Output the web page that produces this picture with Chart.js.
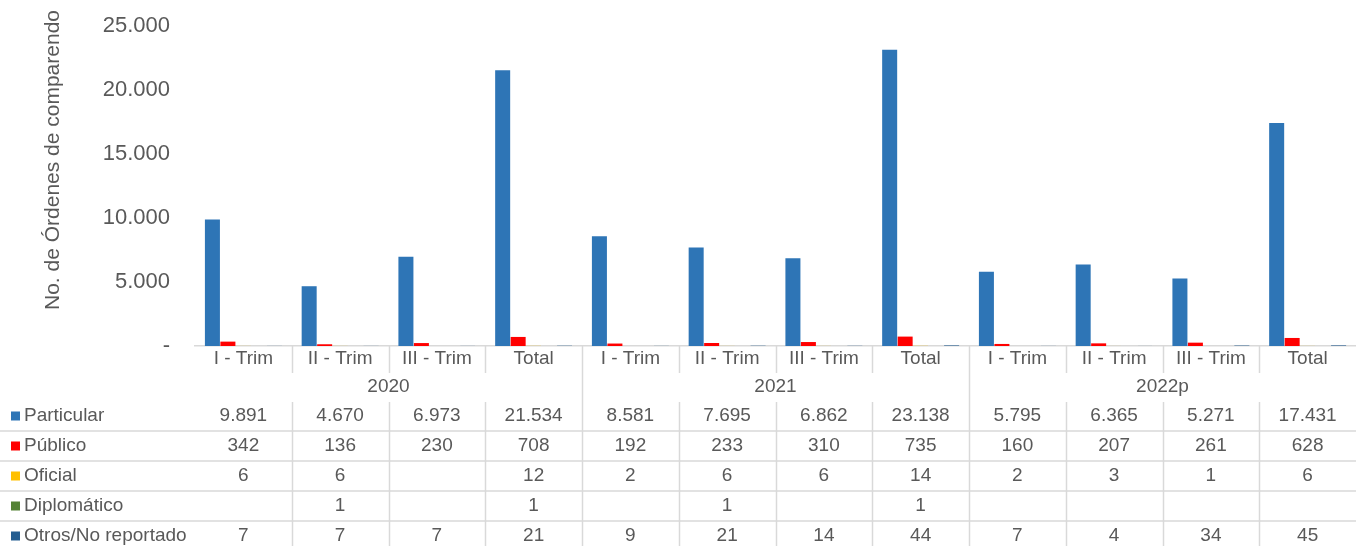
<!DOCTYPE html>
<html>
<head>
<meta charset="utf-8">
<script src="https://cdn.jsdelivr.net/npm/chart.js@4.4.0/dist/chart.umd.min.js"></script>
<style>
  body { margin: 0; background: #fff; }
  #wrap { width: 1356px; height: 546px; position: relative; }
</style>
</head>
<body>
<div id="wrap"><canvas id="grafico"></canvas></div>
<script>
// categorias y series
const periodos = ["I - Trim", "II - Trim", "III - Trim", "Total",
                  "I - Trim", "II - Trim", "III - Trim", "Total",
                  "I - Trim", "II - Trim", "III - Trim", "Total"];
const anios = ["2020", "2021", "2022p"];
const particular = [9891, 4670, 6973, 21534, 8581, 7695, 6862, 23138, 5795, 6365, 5271, 17431];
const publico = [342, 136, 230, 708, 192, 233, 310, 735, 160, 207, 261, 628];
const oficial = [6, 6, null, 12, 2, 6, 6, 14, 2, 3, 1, 6];
const diplomatico = [null, 1, null, 1, null, 1, null, 1, null, null, null, null];
const otros = [7, 7, 7, 21, 9, 21, 14, 44, 7, 4, 34, 45];
const yTicks = [0, 5000, 10000, 15000, 20000, 25000];

const gris = "#D9D9D9";
const texto = "#595959";
const fuente = "'Liberation Sans', Arial, sans-serif";

function miles(v) {
    if (v === null || v === undefined) return "";
    return String(v).replace(/\B(?=(\d{3})+(?!\d))/g, ".");
}

const series = [
    { nombre: "Particular", datos: particular, color: "#2E75B6" },
    { nombre: "Público", datos: publico, color: "#FF0000" },
    { nombre: "Oficial", datos: oficial, color: "#FFC000" },
    { nombre: "Diplomático", datos: diplomatico, color: "#548235" },
    { nombre: "Otros/No reportado", datos: otros, color: "#255E91" }
];

// tabla de datos debajo del eje
const tablaPlugin = {
    id: "tabla",
    afterDraw(chart) {
        const ctx = chart.ctx;
        const x = chart.scales.x;
        const area = chart.chartArea;
        const ancho = x.getPixelForValue(1) - x.getPixelForValue(0);
        const base = area.bottom;
        const filaY = [416, 446, 476, 506, 536];

        ctx.save();
        ctx.strokeStyle = gris;
        ctx.lineWidth = 1.5;

        // lineas verticales
        for (let k = 1; k < periodos.length; k++) {
            const px = Math.round(x.getPixelForValue(k) - ancho / 2) + 0.5;
            ctx.beginPath();
            if (k % 4 === 0) {
                ctx.moveTo(px, base);
                ctx.lineTo(px, 546);
            } else {
                ctx.moveTo(px, base);
                ctx.lineTo(px, 373);
                ctx.moveTo(px, 402);
                ctx.lineTo(px, 546);
            }
            ctx.stroke();
        }
        // lineas horizontales
        [431, 461, 491, 521].forEach(function (yy) {
            ctx.beginPath();
            ctx.moveTo(0, yy);
            ctx.lineTo(chart.width, yy);
            ctx.stroke();
        });

        ctx.fillStyle = texto;
        ctx.font = "19px " + fuente;
        ctx.textAlign = "center";
        ctx.textBaseline = "middle";

        periodos.forEach(function (p, i) {
            ctx.fillText(p, x.getPixelForValue(i), 359);
        });
        anios.forEach(function (a, j) {
            const cx = (x.getPixelForValue(j * 4) + x.getPixelForValue(j * 4 + 3)) / 2;
            ctx.fillText(a, cx, 387);
        });

        series.forEach(function (s, r) {
            const yy = filaY[r];
            ctx.fillStyle = s.color;
            ctx.fillRect(11, yy - 4.5, 9, 9);
            ctx.fillStyle = texto;
            ctx.textAlign = "left";
            ctx.fillText(s.nombre, 24, yy);
            ctx.textAlign = "center";
            s.datos.forEach(function (v, i) {
                ctx.fillText(miles(v), x.getPixelForValue(i), yy);
            });
        });

        // titulo del eje y
        ctx.translate(53, 160);
        ctx.rotate(-Math.PI / 2);
        ctx.font = "21px " + fuente;
        ctx.fillText("No. de Órdenes de comparendo", 0, 0);
        ctx.restore();
    }
};

new Chart(document.getElementById("grafico"), {
    type: "bar",
    data: {
        labels: periodos,
        datasets: series.map(function (s) {
            return {
                label: s.nombre,
                data: s.datos,
                backgroundColor: s.color,
                borderWidth: 0,
                barPercentage: 0.97,
                categoryPercentage: 0.8
            };
        })
    },
    options: {
        responsive: true,
        maintainAspectRatio: false,
        animation: false,
        layout: { padding: { top: 26, right: 0, left: 0, bottom: 0 } },
        plugins: {
            legend: { display: false },
            tooltip: { enabled: false }
        },
        scales: {
            x: {
                grid: { display: false, drawTicks: false },
                border: { display: true, color: gris, width: 1.5 },
                ticks: { display: false },
                afterFit: function (scale) { scale.height = 200; }
            },
            y: {
                min: 0,
                max: 25000,
                afterBuildTicks: function (scale) {
                    scale.ticks = yTicks.map(function (v) { return { value: v }; });
                },
                grid: { display: false, drawTicks: false },
                border: { display: false },
                ticks: {
                    color: texto,
                    font: { family: fuente, size: 22 },
                    padding: 25,
                    callback: function (v) { return v === 0 ? "-" : miles(v); }
                },
                afterFit: function (scale) {
                    scale.width = 195;
                    scale.paddingTop = 0;
                    scale.paddingBottom = 0;
                }
            }
        }
    },
    plugins: [tablaPlugin]
});
</script>
</body>
</html>
